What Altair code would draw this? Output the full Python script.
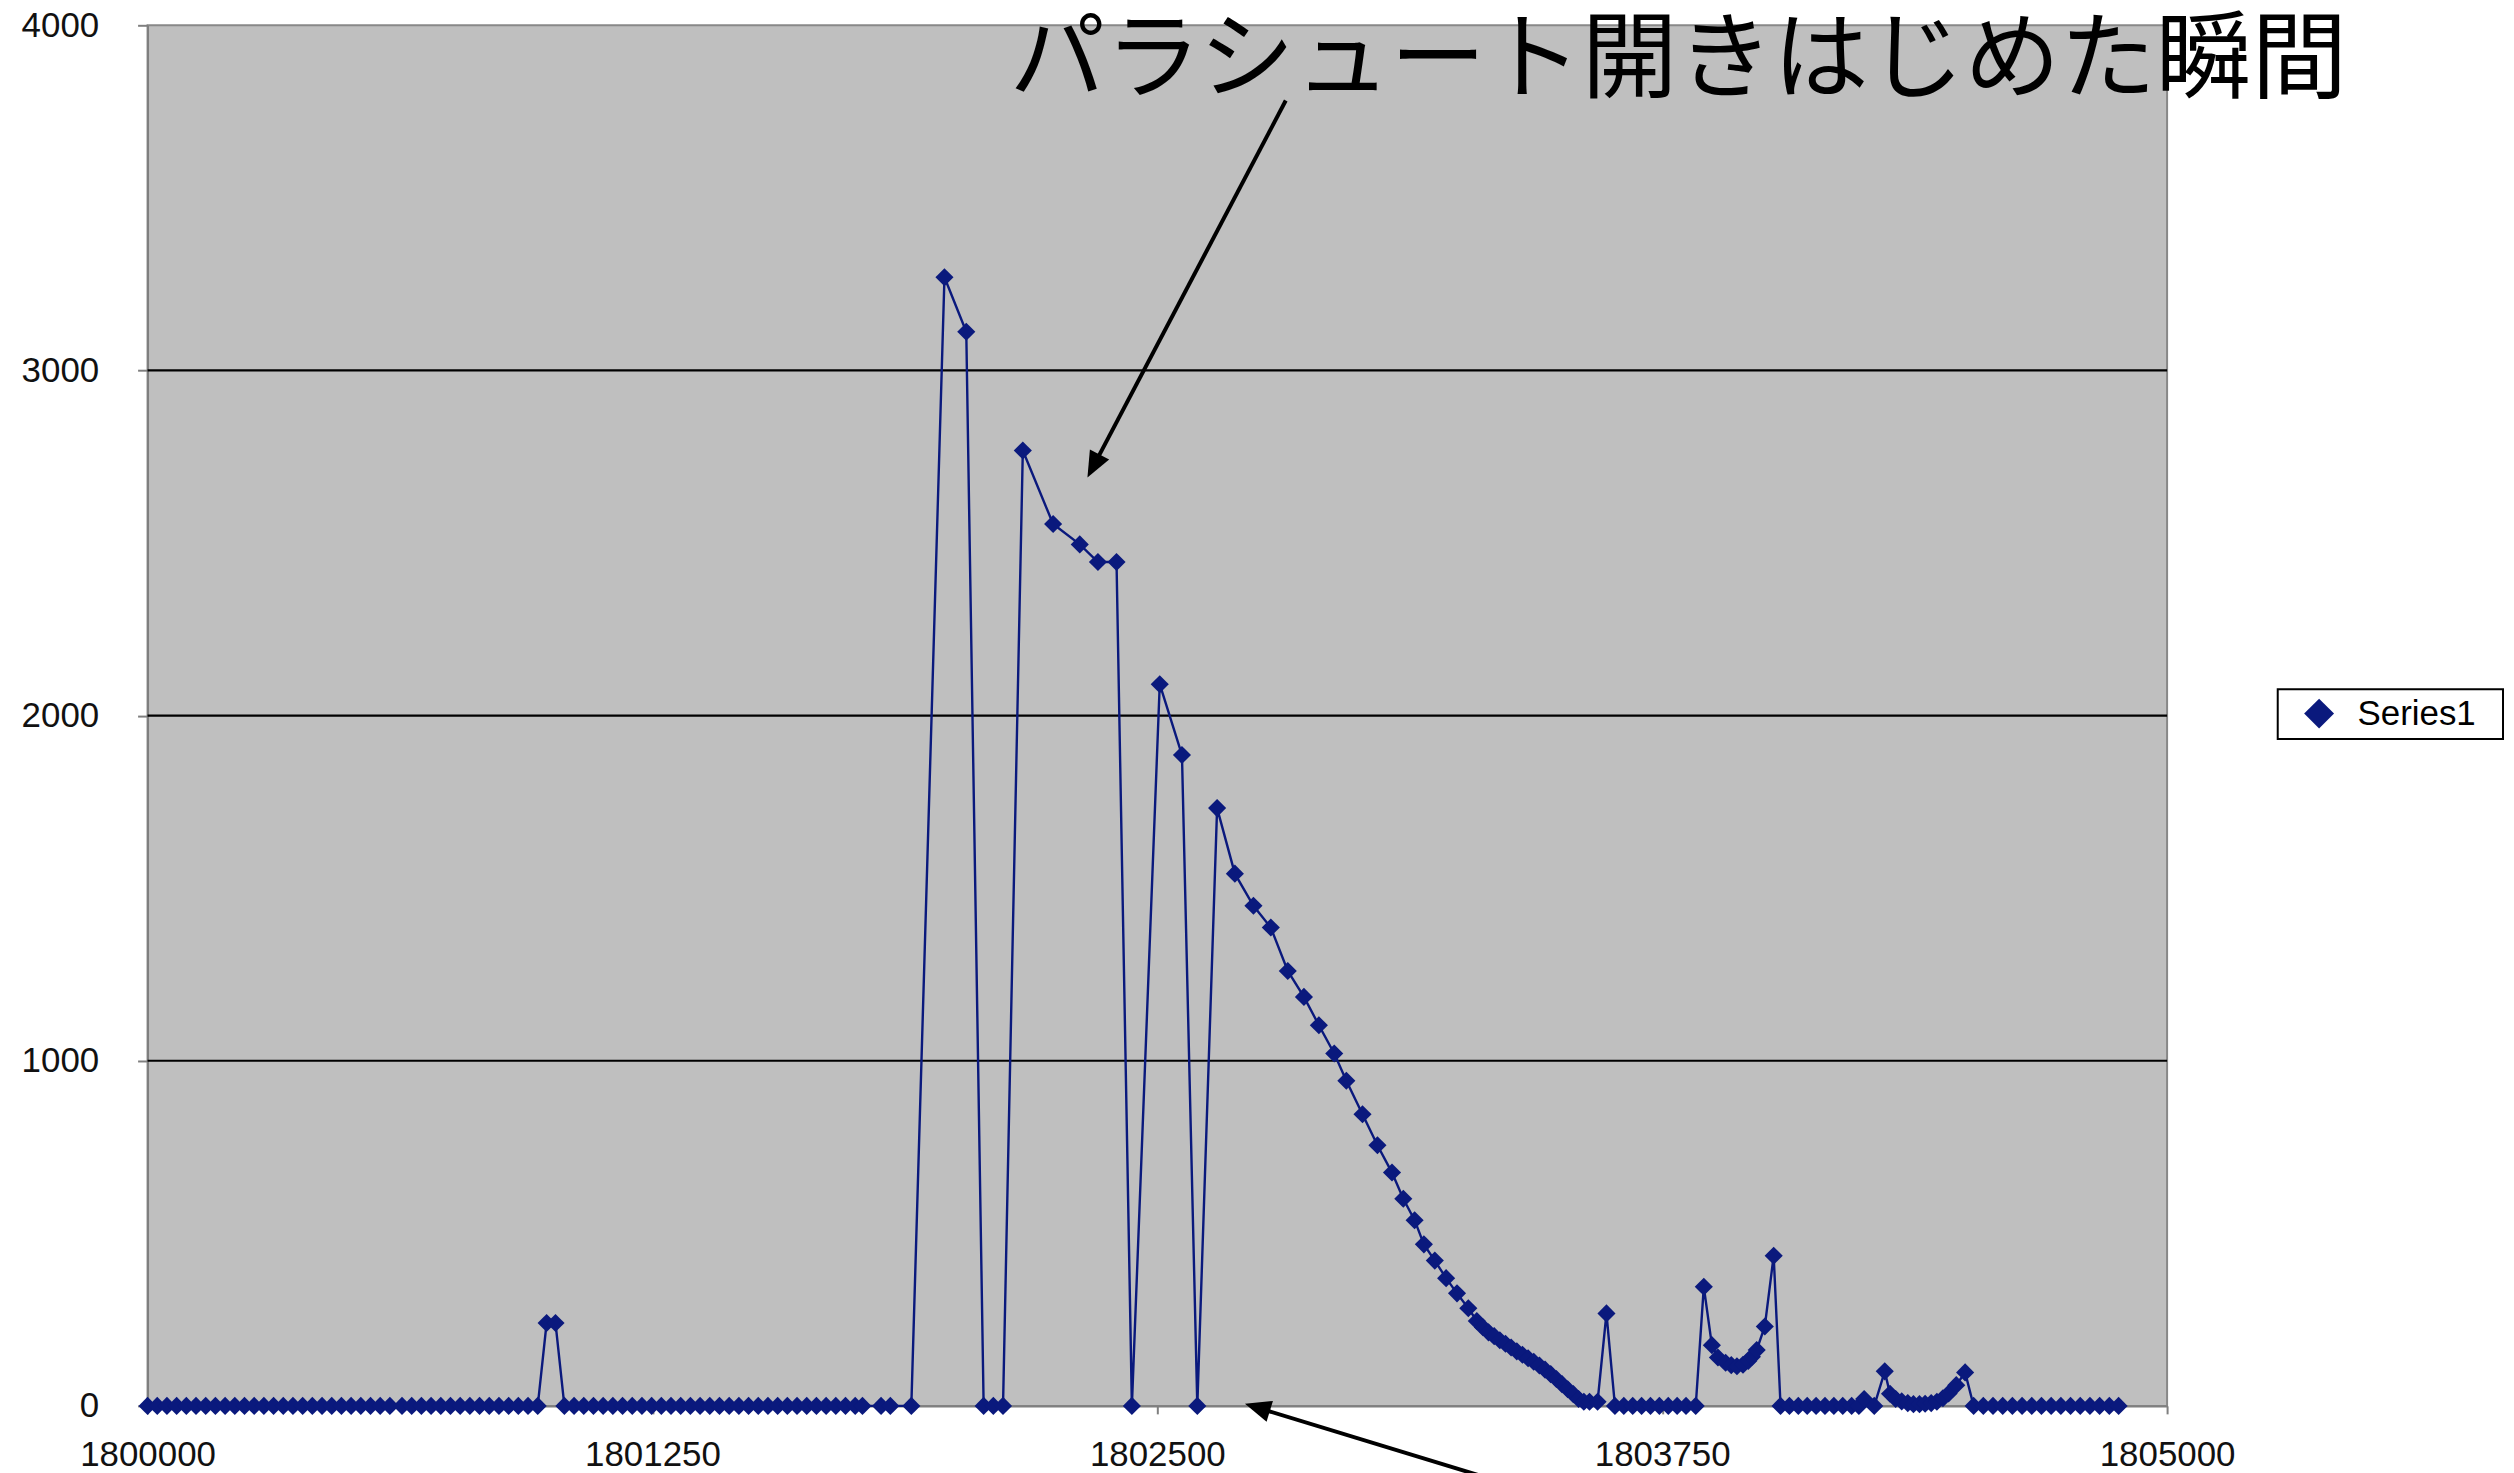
import altair as alt
import pandas as pd

# ---- data ----
times = [
    1800000, 1800024, 1800048, 1800072, 1800096, 1800120, 1800144, 1800168, 1800192, 1800216,
    1800240, 1800264, 1800288, 1800312, 1800336, 1800360, 1800384, 1800408, 1800432, 1800456,
    1800480, 1800504, 1800528, 1800552, 1800576, 1800600, 1800630, 1800654, 1800678, 1800702,
    1800726, 1800750, 1800774, 1800798, 1800822, 1800846, 1800870, 1800894, 1800918, 1800942,
    1800966, 1800988, 1801010, 1801032, 1801056, 1801080, 1801104, 1801128, 1801152, 1801176,
    1801200, 1801224, 1801248, 1801272, 1801296, 1801320, 1801344, 1801368, 1801392, 1801416,
    1801440, 1801464, 1801488, 1801512, 1801536, 1801560, 1801584, 1801608, 1801632, 1801656,
    1801680, 1801704, 1801728, 1801752, 1801770, 1801816, 1801839, 1801891, 1801973, 1802027,
    1802070, 1802094, 1802118, 1802167, 1802242, 1802308, 1802353, 1802399, 1802437, 1802506,
    1802561, 1802599, 1802648, 1802692, 1802738, 1802781, 1802823, 1802863, 1802900, 1802938,
    1802968, 1803008, 1803045, 1803081, 1803109, 1803137, 1803160, 1803187, 1803215, 1803242,
    1803270, 1803291, 1803306, 1803320, 1803334, 1803348, 1803362, 1803376, 1803390, 1803404,
    1803418, 1803432, 1803446, 1803460, 1803474, 1803488, 1803502, 1803516, 1803530, 1803543,
    1803556, 1803570, 1803590, 1803612, 1803633, 1803655, 1803677, 1803699, 1803721, 1803743,
    1803765, 1803787, 1803809, 1803833, 1803853, 1803873, 1803888, 1803907, 1803921, 1803935,
    1803950, 1803963, 1803972, 1803984, 1804004, 1804026, 1804043, 1804065, 1804087, 1804109,
    1804131, 1804153, 1804175, 1804197, 1804219, 1804237, 1804250, 1804275, 1804301, 1804314,
    1804328, 1804343, 1804358, 1804372, 1804387, 1804401, 1804416, 1804430, 1804445, 1804459,
    1804478, 1804500, 1804521, 1804545, 1804569, 1804593, 1804617, 1804641, 1804665, 1804689,
    1804713, 1804737, 1804761, 1804785, 1804809, 1804833, 1804857, 1804880,
]
values = [
    0, 0, 0, 0, 0, 0, 0, 0, 0, 0,
    0, 0, 0, 0, 0, 0, 0, 0, 0, 0,
    0, 0, 0, 0, 0, 0, 0, 0, 0, 0,
    0, 0, 0, 0, 0, 0, 0, 0, 0, 0,
    0, 240, 240, 0, 0, 0, 0, 0, 0, 0,
    0, 0, 0, 0, 0, 0, 0, 0, 0, 0,
    0, 0, 0, 0, 0, 0, 0, 0, 0, 0,
    0, 0, 0, 0, 0, 0, 0, 0, 3270, 3112,
    0, 0, 0, 2768, 2555, 2496, 2445, 2445, 0, 2091,
    1886, 0, 1732, 1542, 1449, 1386, 1260, 1185, 1103, 1021,
    942, 845, 755, 676, 600, 538, 468, 421, 370, 326,
    283, 246, 228, 213, 202, 190, 180, 169, 158, 148,
    138, 128, 117, 105, 92, 78, 63, 48, 34, 20,
    12, 12, 12, 268, 0, 0, 0, 0, 0, 0,
    0, 0, 0, 0, 345, 176, 140, 125, 118, 115,
    119, 130, 142, 162, 230, 435, 0, 0, 0, 0,
    0, 0, 0, 0, 0, 0, 20, 0, 100, 35,
    20, 13, 8, 5, 5, 6, 8, 12, 22, 36,
    60, 97, 0, 0, 0, 0, 0, 0, 0, 0,
    0, 0, 0, 0, 0, 0, 0, 0,
]
assert len(times) == len(values)

series_name = "Series1"
x_ticks = [1800000, 1801250, 1802500, 1803750, 1805000]
y_ticks = [0, 1000, 2000, 3000, 4000]
grid_values = [1000, 2000, 3000]

note_text = ["パラシュート開きはじめた瞬間"]
note_x = [1803790]
note_y = [3894]

arrow_x_start = [1802818, 1803411]
arrow_y_start = [3782, -242]
arrow_x_end = [1802350, 1802764]
arrow_y_end = [2741, -11]
head_x = [1802327, 1802717]
head_y = [2690, 6]
head_angle = [207.8, 287]

NAVY = "#0A197D"
GRAY = "#7f7f7f"
FONT = "Liberation Sans"

df = pd.DataFrame({"t": times, "v": values, "series": series_name})
grid_df = pd.DataFrame({"g": grid_values})
note_df = pd.DataFrame({"x": note_x, "y": note_y, "label": note_text})
arrow_df = pd.DataFrame({"x1": arrow_x_start, "y1": arrow_y_start,
                         "x2": arrow_x_end, "y2": arrow_y_end})
head_df = pd.DataFrame({"x": head_x, "y": head_y, "a": head_angle})

xs = alt.Scale(domain=[1800000, 1805000], nice=False, zero=False)
ys = alt.Scale(domain=[0, 4000], nice=False, zero=False)


def x_axis():
    return alt.Axis(values=x_ticks, format="d", title=None, grid=False, labelFlush=False,
                    labelOverlap=False, tickSize=8, labelPadding=24)


def y_axis():
    return alt.Axis(values=y_ticks, format="d", title=None, grid=False, labelFlush=False,
                    labelOverlap=False, tickSize=10, labelPadding=39)


grid = alt.Chart(grid_df).mark_rule(color="black", strokeWidth=2.2).encode(
    y=alt.Y("g:Q", scale=ys, axis=y_axis())
)

line = alt.Chart(df).mark_line(color=NAVY, strokeWidth=2.4).encode(
    x=alt.X("t:Q", scale=xs, axis=x_axis()),
    y=alt.Y("v:Q", scale=ys, axis=y_axis()),
)

points = alt.Chart(df).mark_point(shape="diamond", filled=True, size=330, opacity=1).encode(
    x=alt.X("t:Q", scale=xs, axis=x_axis()),
    y=alt.Y("v:Q", scale=ys, axis=y_axis()),
    color=alt.Color(
        "series:N",
        scale=alt.Scale(domain=[series_name], range=[NAVY]),
        legend=alt.Legend(
            title=None, orient="none", legendX=2137, legendY=666,
            symbolType="diamond", symbolSize=900, symbolStrokeWidth=0,
            symbolOffset=17, labelOffset=21, padding=7,
            labelFont=FONT, labelFontSize=35, labelColor="black",
            labelExpr="datum.label + '\u00a0\u00a0\u200b'",
            strokeColor="black", fillColor="white",
        ),
    ),
)

arrows = alt.Chart(arrow_df).mark_rule(color="black", strokeWidth=4).encode(
    x=alt.X("x1:Q", scale=xs, axis=x_axis()),
    y=alt.Y("y1:Q", scale=ys, axis=y_axis()),
    x2="x2:Q",
    y2="y2:Q",
)

heads = alt.Chart(head_df).mark_point(
    shape="M0,0L-0.42,1L0.42,1Z", filled=True, size=2704, color="black",
    opacity=1, strokeWidth=0,
).encode(
    x=alt.X("x:Q", scale=xs, axis=x_axis()),
    y=alt.Y("y:Q", scale=ys, axis=y_axis()),
    angle=alt.Angle("a:Q", scale=None),
)

note = alt.Chart(note_df).mark_text(
    font="Noto Sans CJK JP", fontSize=96, color="black", align="center", baseline="middle"
).encode(
    x=alt.X("x:Q", scale=xs, axis=x_axis()),
    y=alt.Y("y:Q", scale=ys, axis=y_axis()),
    text="label:N",
)

chart = alt.layer(grid, line, points, arrows, heads, note).properties(
    width=2026,
    height=1385,
    padding={"left": 140, "top": 15, "right": 340, "bottom": 72},
    autosize=alt.AutoSizeParams(type="none"),
).configure_view(
    fill="#BFBFBF", stroke="#888888", strokeWidth=2
).configure_axis(
    labelFont=FONT, labelFontSize=35, labelColor="#111111",
    domainColor=GRAY, domainWidth=2, tickColor=GRAY, tickWidth=2,
).configure_legend(
    strokeWidth=2
)

chart.save("out.html", embed_options={"renderer": "svg", "actions": False})
